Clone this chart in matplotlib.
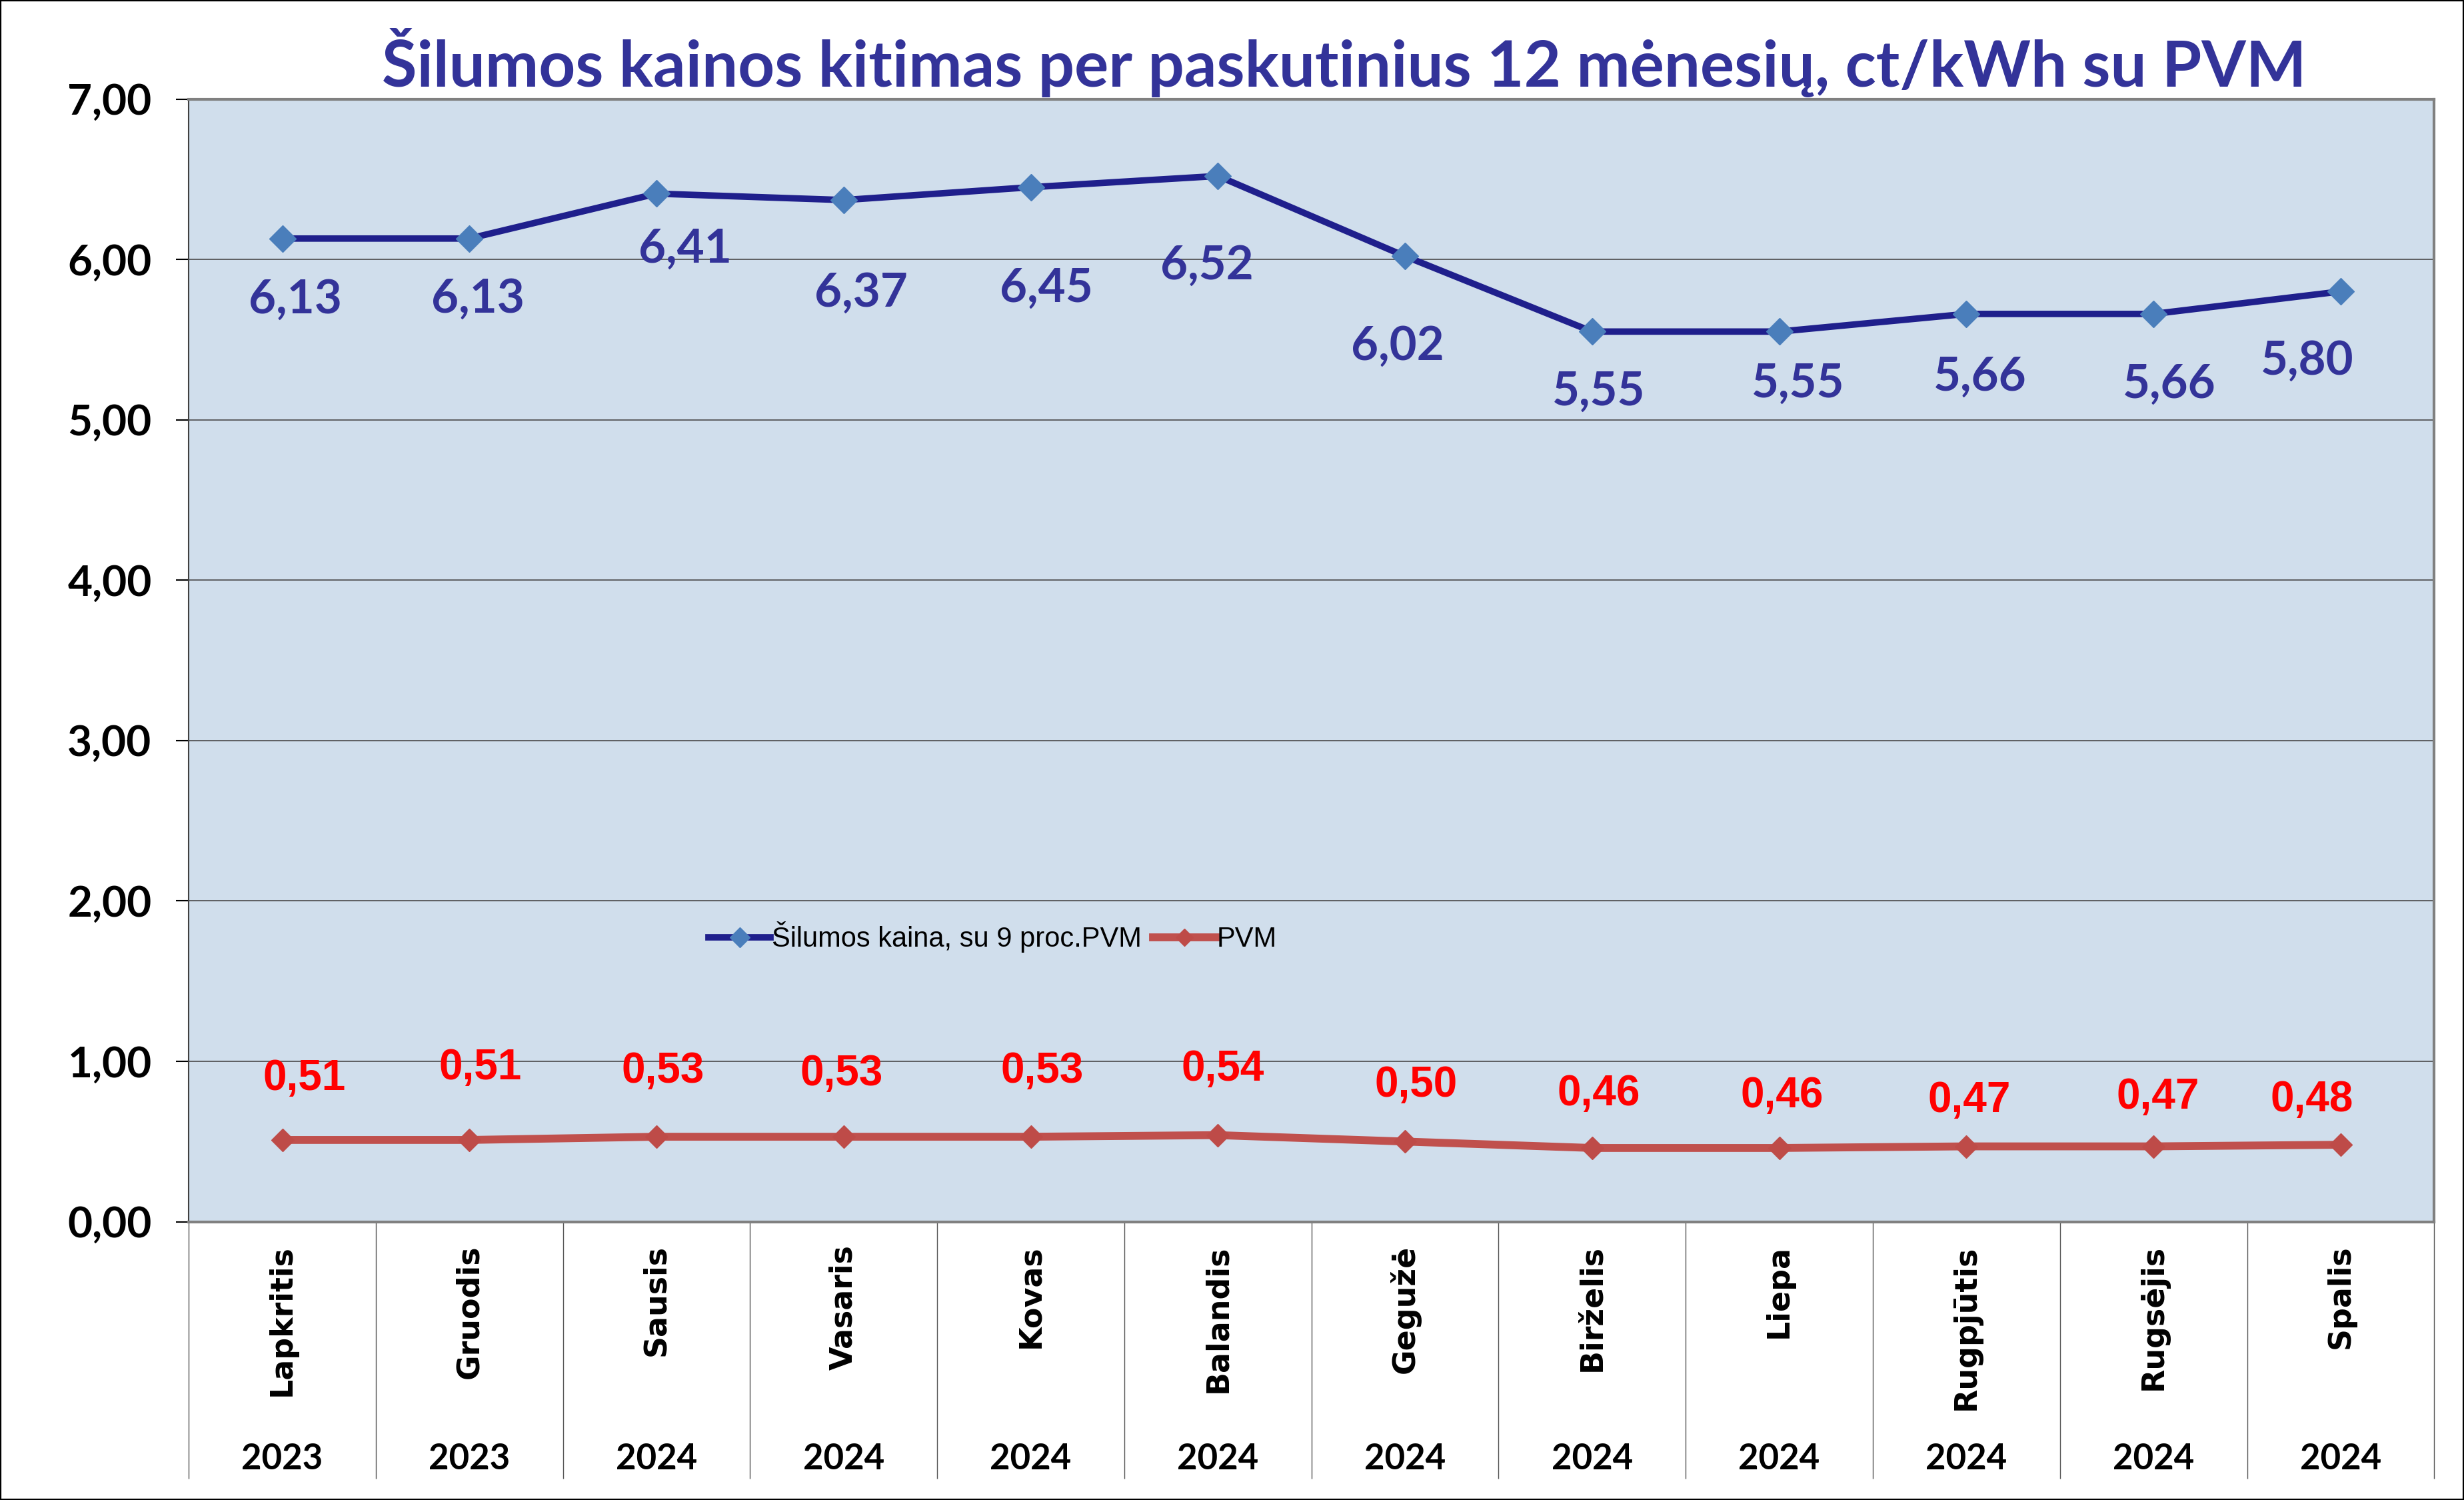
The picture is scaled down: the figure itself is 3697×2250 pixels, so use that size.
import numpy as np
import matplotlib
matplotlib.use("Agg")
import matplotlib.pyplot as plt
from matplotlib.patches import Rectangle

months = ["Lapkritis", "Gruodis", "Sausis", "Vasaris", "Kovas", "Balandis",
          "Gegužė", "Birželis", "Liepa", "Rugpjūtis", "Rugsėjis", "Spalis"]
years = ["2023", "2023", "2024", "2024", "2024", "2024",
         "2024", "2024", "2024", "2024", "2024", "2024"]
price = [6.13, 6.13, 6.41, 6.37, 6.45, 6.52, 6.02, 5.55, 5.55, 5.66, 5.66, 5.80]
vat = [0.51, 0.51, 0.53, 0.53, 0.53, 0.54, 0.50, 0.46, 0.46, 0.47, 0.47, 0.48]
y_ticks = [0, 1, 2, 3, 4, 5, 6, 7]

# label offsets (points), hand-placed like in the original sheet
price_off = [(14, -66), (9, -65), (31, -60), (19, -100), (17, -109), (-12, -97),
             (-8, -97), (7, -65), (20, -56), (15, -68), (17, -76), (-36, -75)]
vat_off = [(24, 66), (12, 78), (7, 71), (-2, 68), (12, 71), (5, 71),
           (12, 61), (7, 58), (3, 56), (3, 49), (5, 53), (-31, 48)]

COND = "Lato"
NAVY = "#333399"

fig = plt.figure(figsize=(36.97, 22.5), dpi=100)
ax = fig.add_axes([0.0766, 0.1855, 0.9113, 0.7485])
ax.set_facecolor("#D0DEEC")

x = np.arange(len(months))
ax.plot(x, price, color="#1F1F8C", lw=7, marker="D", ms=20,
        mfc="#4A7EBB", mec="#4A7EBB", label="Šilumos kaina, su 9 proc.PVM", zorder=3)
ax.plot(x, vat, color="#C0504D", lw=8.5, marker="D", ms=17,
        mfc="#BE4B48", mec="#BE4B48", label="PVM", zorder=3)

for i in range(len(x)):
    ax.annotate(f"{price[i]:.2f}".replace(".", ","), (x[i], price[i]),
                xytext=price_off[i], textcoords="offset points",
                ha="center", va="center", fontsize=51, fontweight="bold",
                family=COND, color=NAVY)
    ax.annotate(f"{vat[i]:.2f}".replace(".", ","), (x[i], vat[i]),
                xytext=vat_off[i], textcoords="offset points",
                ha="center", va="center", fontsize=46, fontweight="bold",
                family="Liberation Sans", color="#FF0000")

ax.set_xlim(-0.5, len(months) - 0.5)
ax.set_ylim(0, 7)
ax.set_yticks(y_ticks)
ax.set_yticklabels([f"{v:.2f}".replace(".", ",") for v in y_ticks],
                   fontsize=46, fontweight="bold", family=COND)
ax.tick_params(axis="y", length=14, width=1.5, pad=26, color="black")
ax.yaxis.grid(True, color="#4A4A4A", lw=1.2)
ax.set_axisbelow(True)

ax.set_xticks(x)
ax.set_xticklabels(months, rotation=90, va="top", ha="center",
                   fontsize=33, fontweight="bold", family="DejaVu Sans")
ax.tick_params(axis="x", which="major", length=0, pad=25)
ax.set_xticks(np.arange(-0.5, len(months), 1), minor=True)
ax.tick_params(axis="x", which="minor", length=277, width=1, color="#555555")

for i, yr in enumerate(years):
    ax.text(x[i], -0.2115, yr, transform=ax.get_xaxis_transform(),
            ha="center", va="center", fontsize=38, fontweight="bold", family=COND)

for side in ["top", "right", "bottom"]:
    ax.spines[side].set_color("#808080")
    ax.spines[side].set_linewidth(3)
ax.spines["left"].set_color("#404040")
ax.spines["left"].set_linewidth(1.5)

ax.legend(loc="center", bbox_to_anchor=(0.358, 0.2535), ncol=2, frameon=False,
          prop={"family": "Liberation Sans", "size": 30}, handlelength=2.25,
          handletextpad=0.05, columnspacing=0.4, markerscale=0.75)

fig.text(0.5456, 0.958, "Šilumos kainos kitimas per paskutinius 12 mėnesių, ct/kWh su PVM",
         ha="center", va="center", fontsize=69, fontweight="bold", family=COND, color=NAVY)

fig.patches.append(Rectangle((0, 0), 1, 1, transform=fig.transFigure, fill=False,
                             edgecolor="black", lw=3))

fig.savefig("out.png", dpi=100)
